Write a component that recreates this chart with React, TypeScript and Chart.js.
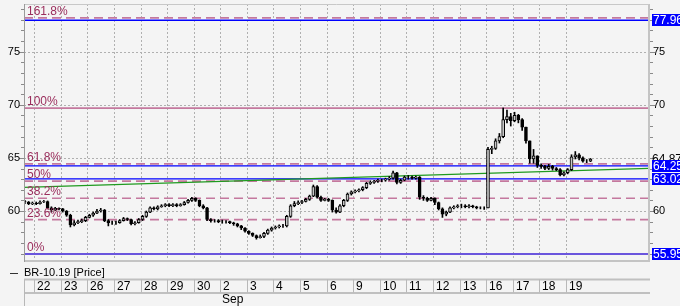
import React, { useEffect, useRef } from "react";
import { Chart, registerables } from "chart.js";

Chart.register(...registerables);

// ---------- data ----------
const dayLabels = ["22", "23", "26", "27", "28", "29", "30", "2", "3", "4", "5", "6", "9", "10", "11", "12", "13", "16", "17", "18", "19"];
const monthLabels = ["", "", "", "", "", "", "", "Sep", "", "", "", "", "", "", "", "", "", "", "", "", ""];
const seriesName = "BR-10.19 [Price]";
const candlesPerDay = 7;
const firstSlot = 4; // first candle sits in slot 4 of the partial day before "22"
const firstOpen = 60.9;

const closes = [
  60.85, 60.7, 60.75,
  60.7, 60.85, 60.9, 60.3, 60.1, 60.25, 60.2,
  60.0, 59.6, 58.7, 58.9, 59.0, 59.1, 59.4,
  59.6, 59.8, 60.0, 60.1, 59.1, 58.9, 58.9,
  58.9, 59.1, 59.3, 59.2, 58.8, 58.9, 59.2,
  59.5, 59.9, 60.3, 60.2, 60.4, 60.5, 60.6,
  60.5, 60.6, 60.5, 60.6, 60.8, 61.0, 61.2,
  61.0, 60.5, 60.3, 59.2, 59.1, 59.1, 59.0,
  59.0, 59.0, 58.9, 58.8, 58.6, 58.4, 58.1,
  57.9, 57.7, 57.5, 57.6, 57.9, 58.2, 58.4,
  58.5, 58.6, 58.6, 59.5, 60.5, 60.7, 60.8,
  60.9, 61.1, 61.4, 62.3, 61.3, 61.0, 61.1,
  61.0, 60.1, 59.9, 60.5, 61.0, 61.6, 61.8,
  61.9, 62.0, 62.2, 62.6, 62.7, 62.8, 62.9,
  62.9, 63.0, 63.1, 63.6, 62.7, 62.9, 63.2,
  63.2, 63.1, 63.2, 61.3, 61.2, 61.0, 61.2,
  60.8, 60.2, 59.7, 59.9, 60.3, 60.4, 60.5,
  60.5, 60.4, 60.5, 60.4, 60.3, 60.3, 60.3,
  65.8, 65.9, 66.6, 67.0, 68.6, 68.9, 68.5,
  69.0, 68.6, 67.9, 66.6, 64.9, 65.2, 64.3,
  64.2, 64.0, 64.2, 64.0, 63.9, 63.4, 63.6,
  63.9, 65.1, 65.3, 65.0, 64.7, 64.7, 64.87,
];
const highs = [
  61.0, 60.9, 60.85,
  60.85, 60.95, 61.0, 60.95, 60.4, 60.35, 60.3,
  60.25, 60.05, 59.7, 59.1, 59.15, 59.25, 59.5,
  59.7, 59.9, 60.15, 60.25, 60.15, 59.2, 59.05,
  59.05, 59.2, 59.4, 59.35, 59.25, 59.0, 59.3,
  59.6, 60.0, 60.4, 60.4, 60.5, 60.6, 60.7,
  60.7, 60.7, 60.7, 60.7, 60.9, 61.1, 61.3,
  61.25, 61.05, 60.6, 60.35, 59.3, 59.2, 59.2,
  59.15, 59.1, 59.05, 58.95, 58.85, 58.65, 58.45,
  58.15, 57.95, 57.75, 57.75, 58.0, 58.3, 58.5,
  58.6, 58.7, 58.75, 59.6, 60.6, 60.9, 60.95,
  61.0, 61.2, 61.5, 62.45, 62.4, 61.4, 61.2,
  61.2, 61.05, 60.3, 60.6, 61.1, 61.7, 61.9,
  62.0, 62.1, 62.3, 62.7, 62.85, 62.9, 63.0,
  63.0, 63.1, 63.25, 63.75, 63.65, 63.0, 63.3,
  63.35, 63.3, 63.3, 63.25, 61.45, 61.3, 61.3,
  61.25, 60.85, 60.3, 60.0, 60.4, 60.5, 60.6,
  60.65, 60.6, 60.6, 60.55, 60.45, 60.4, 60.4,
  66.0, 66.1, 66.8, 67.3, 69.7, 69.5, 69.2,
  69.3, 69.1, 68.7, 67.9, 66.6, 65.8, 65.2,
  64.45, 64.3, 64.4, 64.3, 64.1, 64.0, 63.7,
  64.0, 65.3, 65.6, 65.4, 65.1, 64.85, 64.95,
];
const lows = [
  60.7, 60.6, 60.6,
  60.6, 60.65, 60.8, 60.2, 59.9, 60.05, 60.1,
  59.9, 59.5, 58.5, 58.6, 58.8, 58.9, 59.0,
  59.35, 59.5, 59.75, 59.9, 59.0, 58.6, 58.75,
  58.75, 58.85, 59.05, 59.1, 58.7, 58.7, 58.85,
  59.1, 59.4, 59.85, 60.1, 60.1, 60.35, 60.4,
  60.4, 60.4, 60.4, 60.45, 60.55, 60.75, 60.9,
  60.9, 60.4, 60.2, 59.1, 58.95, 58.95, 58.9,
  58.85, 58.85, 58.8, 58.65, 58.5, 58.25, 58.0,
  57.8, 57.6, 57.35, 57.45, 57.5, 57.8, 58.1,
  58.3, 58.4, 58.45, 58.5, 59.4, 60.4, 60.6,
  60.7, 60.85, 61.0, 61.35, 61.2, 60.9, 60.95,
  60.9, 59.9, 59.8, 59.85, 60.4, 60.9, 61.5,
  61.7, 61.8, 61.9, 62.1, 62.5, 62.6, 62.7,
  62.75, 62.8, 62.9, 63.0, 62.55, 62.6, 62.85,
  63.0, 63.0, 63.0, 61.1, 61.0, 60.9, 60.95,
  60.6, 60.1, 59.4, 59.55, 59.85, 60.2, 60.3,
  60.3, 60.3, 60.3, 60.3, 60.2, 60.2, 60.15,
  60.3, 65.4, 65.8, 66.4, 66.9, 68.3, 68.0,
  68.4, 68.3, 67.6, 66.4, 64.5, 64.5, 64.1,
  64.0, 63.9, 63.9, 63.85, 63.8, 63.3, 63.3,
  63.5, 63.8, 64.9, 64.8, 64.6, 64.55, 64.65,
];

const yTicks = [60, 65, 70, 75];
const rightTicks = [60, 70, 75];
const fibLabels = ["0%", "23.6%", "38.2%", "50%", "61.8%", "100%", "161.8%"];
const fibValues = [55.95, 59.19, 61.2, 62.82, 64.44, 69.69, 78.18];
const fibDashed = [false, true, true, true, true, false, true];
const markerValues = [77.96, 64.25, 63.02, 55.95];
const lastPrice = 64.87;
const trendValues = [62.23, 64.02];

const Y_MIN = 55.39;
const Y_MAX = 79.49;
const X_MIN = -0.388;
const X_MAX = 23.13;

// ---------- styles ----------
const BG = "#f4f4f4";
const FONT = "11px 'Liberation Sans', Arial, sans-serif";
const FONT_BIG = "12px 'Liberation Sans', Arial, sans-serif";
const FIB_LINE = "rgba(196,120,158,1)";
const FIB_TEXT = "#9a2d5c";
const BLUE = "#0000ff";

function candleX(i: number) {
  const s = i + firstSlot;
  return (s + 0.5) / candlesPerDay - 1;
}

export default function App() {
  const ref = useRef<HTMLCanvasElement>(null);

  useEffect(() => {
    const opens = closes.map((_, i) => (i === 0 ? firstOpen : closes[i - 1]));
    const wickData = closes.map((_, i) => ({ x: candleX(i), y: [lows[i], highs[i]] }));
    const bodyData = closes.map((c, i) => ({ x: candleX(i), y: [opens[i], c] }));
    const bodyColors = closes.map((c, i) => (c > opens[i] ? "#c8c8c8" : "#000000"));

    const hLine = (v: number) => [
      { x: X_MIN, y: v },
      { x: X_MAX, y: v },
    ];

    const fibSets = fibValues.map((v, i) => ({
      type: "line" as const,
      data: hLine(v),
      borderColor: i === 0 ? "#7a63d6" : FIB_LINE,
      borderWidth: i === 0 ? 2 : 1.6,
      borderDash: fibDashed[i] ? [9, 5] : [],
      pointRadius: 0,
      order: 5,
    }));
    const markerSets = markerValues.map((v) => ({
      type: "line" as const,
      data: hLine(v),
      borderColor: v === 55.95 ? "#6a55dd" : BLUE,
      borderWidth: v === 55.95 ? 2 : 1.3,
      pointRadius: 0,
      order: 4,
    }));
    const trendSet = {
      type: "line" as const,
      data: [
        { x: X_MIN, y: trendValues[0] },
        { x: X_MAX, y: trendValues[1] },
      ],
      borderColor: "#1f9a1f",
      borderWidth: 1.4,
      pointRadius: 0,
      order: 3,
    };

    const decor = {
      id: "decor",
      beforeDraw(chart: any) {
        const { ctx } = chart;
        ctx.save();
        ctx.fillStyle = BG;
        ctx.fillRect(0, 0, chart.width, chart.height);
        ctx.restore();
      },
      beforeDatasetsDraw(chart: any) {
        const { ctx, chartArea: a, scales } = chart;
        const x = scales.x;
        const y = scales.y;
        ctx.save();
        ctx.strokeStyle = "#b0b0b0";
        ctx.lineWidth = 1;
        ctx.setLineDash([2, 2]);
        yTicks.forEach((v) => {
          const py = Math.round(y.getPixelForValue(v)) + 0.5;
          ctx.beginPath();
          ctx.moveTo(a.left, py);
          ctx.lineTo(a.right, py);
          ctx.stroke();
        });
        dayLabels.forEach((_, d) => {
          const px = Math.round(x.getPixelForValue(d)) + 0.5;
          ctx.beginPath();
          ctx.moveTo(px, a.top);
          ctx.lineTo(px, a.bottom);
          ctx.stroke();
        });
        ctx.restore();
      },
      afterDraw(chart: any) {
        const { ctx, chartArea: a, scales } = chart;
        const x = scales.x;
        const y = scales.y;
        const W = chart.width;
        const H = chart.height;
        ctx.save();
        ctx.setLineDash([]);

        // frame
        ctx.strokeStyle = "#c4c4c4";
        ctx.lineWidth = 2;
        ctx.beginPath();
        ctx.moveTo(a.right + 0, a.top);
        ctx.lineTo(a.right + 0, a.bottom + 1);
        ctx.moveTo(a.left, a.bottom + 1);
        ctx.lineTo(a.right + 1, a.bottom + 1);
        ctx.stroke();
        ctx.lineWidth = 1;
        ctx.strokeStyle = "#c8c8c8";
        ctx.beginPath();
        ctx.moveTo(a.left, a.top + 0.5);
        ctx.lineTo(a.right, a.top + 0.5);
        ctx.stroke();
        ctx.strokeStyle = "#9a9a9a";
        ctx.beginPath();
        ctx.moveTo(a.left + 0.5, a.top);
        ctx.lineTo(a.left + 0.5, a.bottom + 2);
        ctx.stroke();

        // axis ticks
        ctx.strokeStyle = "#8a8a8a";
        ctx.beginPath();
        for (let v = Math.ceil(Y_MIN); v <= Math.floor(Y_MAX); v++) {
          const py = Math.round(y.getPixelForValue(v)) + 0.5;
          const len = v % 5 === 0 ? 5 : 3;
          ctx.moveTo(a.left - len, py);
          ctx.lineTo(a.left, py);
          ctx.moveTo(a.right + 1, py);
          ctx.lineTo(a.right + 1 + len, py);
        }
        ctx.stroke();

        ctx.font = FONT;
        ctx.textBaseline = "middle";
        ctx.fillStyle = "#000";
        ctx.textAlign = "right";
        yTicks.forEach((v) => ctx.fillText(String(v), a.left - 4, y.getPixelForValue(v)));
        ctx.textAlign = "left";
        rightTicks.forEach((v) => ctx.fillText(String(v), a.right + 4, y.getPixelForValue(v)));

        // fib labels
        ctx.font = FONT_BIG;
        ctx.fillStyle = FIB_TEXT;
        ctx.textBaseline = "alphabetic";
        fibLabels.forEach((t, i) => {
          ctx.fillText(t, a.left + 3, y.getPixelForValue(fibValues[i]) - 3);
        });

        // last price label (partly hidden by the 64.25 box)
        ctx.textBaseline = "middle";
        ctx.fillStyle = "#000";
        ctx.fillText(lastPrice.toFixed(2), a.right + 3, y.getPixelForValue(lastPrice));

        // value boxes
        markerValues.forEach((v) => {
          const py = Math.round(y.getPixelForValue(v));
          ctx.fillStyle = BLUE;
          ctx.fillRect(a.right + 3, py - 6, W - a.right - 3, 12);
          ctx.fillStyle = "#fff";
          ctx.fillText(v.toFixed(2), a.right + 4, py + 0.5);
        });

        // legend
        ctx.font = FONT;
        ctx.strokeStyle = "#333";
        ctx.lineWidth = 1;
        ctx.beginPath();
        ctx.moveTo(10, 273.5);
        ctx.lineTo(18, 273.5);
        ctx.stroke();
        ctx.fillStyle = "#000";
        ctx.fillText(seriesName, a.left, 273);

        // date row
        const rowTop = 279.5;
        const rowBot = 292.5;
        ctx.strokeStyle = "#c0c0c0";
        ctx.lineWidth = 2;
        ctx.beginPath();
        ctx.moveTo(a.left, rowTop);
        ctx.lineTo(a.right + 1, rowTop);
        ctx.moveTo(a.left, rowBot + 0.5);
        ctx.lineTo(a.right + 1, rowBot + 0.5);
        ctx.stroke();
        ctx.lineWidth = 1;
        ctx.strokeStyle = "#b8b8b8";
        ctx.beginPath();
        ctx.moveTo(a.left + 0.5, rowTop);
        ctx.lineTo(a.left + 0.5, H);
        dayLabels.forEach((_, d) => {
          const px = Math.round(x.getPixelForValue(d)) + 0.5;
          ctx.moveTo(px, rowTop);
          ctx.lineTo(px, rowBot);
        });
        ctx.stroke();
        ctx.font = FONT_BIG;
        ctx.fillStyle = "#000";
        dayLabels.forEach((t, d) => {
          const px = Math.round(x.getPixelForValue(d));
          ctx.fillText(t, px + 3, 286.5);
          if (monthLabels[d]) ctx.fillText(monthLabels[d], px + 2, 300);
        });
        ctx.restore();
      },
    };

    const chart = new Chart(ref.current as HTMLCanvasElement, {
      type: "bar",
      data: {
        datasets: [
          {
            type: "bar",
            data: bodyData as any,
            backgroundColor: bodyColors,
            borderColor: "#000",
            borderWidth: 1,
            borderSkipped: false,
            barThickness: 3,
            grouped: false,
            order: 0,
          } as any,
          {
            type: "bar",
            data: wickData as any,
            backgroundColor: "#000",
            borderWidth: 0,
            barThickness: 1,
            grouped: false,
            order: 1,
          } as any,
          trendSet as any,
          ...(markerSets as any[]),
          ...(fibSets as any[]),
        ],
      },
      plugins: [decor],
      options: {
        responsive: false,
        animation: false,
        devicePixelRatio: 1,
        layout: { padding: { left: 24, top: 4, right: 31, bottom: 46 } },
        plugins: { legend: { display: false }, tooltip: { enabled: false } },
        scales: {
          x: { type: "linear", min: X_MIN, max: X_MAX, offset: false, display: false },
          y: { type: "linear", min: Y_MIN, max: Y_MAX, display: false },
        },
      },
    });
    return () => chart.destroy();
  }, []);

  return (
    <div style={{ width: 680, height: 306, background: BG }}>
      <style>{"body{margin:0;background:#f4f4f4}"}</style>
      <canvas ref={ref} width={680} height={306} style={{ display: "block" }} />
    </div>
  );
}
